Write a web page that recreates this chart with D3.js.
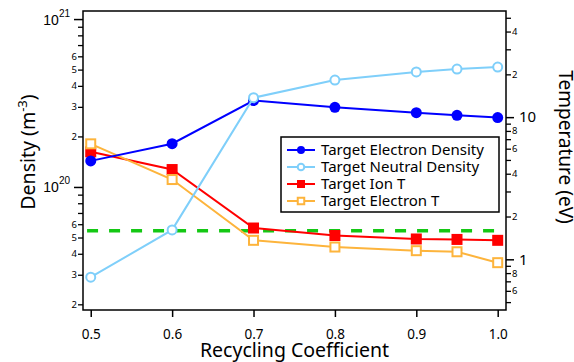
<!DOCTYPE html>
<html>
<head>
<meta charset="utf-8">
<script src="https://cdn.jsdelivr.net/npm/d3@7"></script>
<style>
  body { margin: 0; background: #fff; }
  svg { display: block; font-family: "Noto Sans", sans-serif; }
</style>
</head>
<body>
<svg id="chart"></svg>
<script>
// recycling coefficient on the x axis
const recycling = [0.5, 0.6, 0.7, 0.8, 0.9, 0.95, 1.0];

// densities (m^-3), left axis
const electronDensity = [1.43e20, 1.81e20, 3.27e20, 2.98e20, 2.77e20, 2.67e20, 2.59e20];
const neutralDensity = [2.90e19, 5.55e19, 3.40e20, 4.33e20, 4.84e20, 5.04e20, 5.18e20];

// temperatures (eV), right axis
const ionT = [5.70, 4.28, 1.66, 1.47, 1.39, 1.38, 1.36];
const electronT = [6.49, 3.64, 1.36, 1.22, 1.15, 1.13, 0.947];

// dashed reference level (eV, right axis)
const refLevel = 1.585;

// tick values / labels
const xTicks = [0.5, 0.6, 0.7, 0.8, 0.9, 1.0];
const leftMajor = [1e20, 1e21];
const leftMinor = [2e19, 3e19, 4e19, 5e19, 6e19, 7e19, 8e19, 9e19,
                   2e20, 3e20, 4e20, 5e20, 6e20, 7e20, 8e20, 9e20];
const leftMinorLabelled = [2, 3, 4, 5, 6];
const rightMajor = [1, 10];
const rightMinor = [0.5, 0.6, 0.7, 0.8, 0.9, 2, 3, 4, 5, 6, 7, 8, 9, 20, 30, 40, 50];
const rightMinorLabelled = [2, 4, 6, 8];

const config = {
  width: 574,
  height: 362,
  margin: { top: 11, right: 68, bottom: 52, left: 83 }
};

const svg = d3.select('#chart')
    .attr('width', config.width)
    .attr('height', config.height);

const x0 = config.margin.left;
const x1 = config.width - config.margin.right;
const y0 = config.height - config.margin.bottom;
const y1 = config.margin.top;

const xScale = d3.scaleLinear().domain([0.4905, 1.0102]).range([x0, x1]);
const yLeft = d3.scaleLog().domain([1.85e19, 1.117e21]).range([y0, y1]);
const yRight = d3.scaleLog().domain([0.44, 55.8]).range([y0, y1]);

// leading digit of a log tick value
const mant = v => Math.round(v / Math.pow(10, Math.floor(Math.log10(v) + 1e-9)));

// frame
svg.append('rect')
    .attr('x', x0).attr('y', y1)
    .attr('width', x1 - x0).attr('height', y0 - y1)
    .attr('fill', 'none')
    .attr('stroke', '#000')
    .attr('stroke-width', 1.5);

// x axis
const xAxis = svg.append('g')
    .attr('transform', `translate(0,${y0})`)
    .call(d3.axisBottom(xScale).tickValues(xTicks).tickFormat(d3.format('.1f'))
      .tickSize(7).tickPadding(12).tickSizeOuter(0));
xAxis.select('.domain').remove();
xAxis.selectAll('line').attr('stroke-width', 1.5);
xAxis.selectAll('text').attr('font-size', 13.5).attr('font-family', '"Noto Sans", sans-serif').attr('fill', '#000');

// left axis - minor ticks
const leftMinorG = svg.append('g')
    .attr('transform', `translate(${x0},0)`)
    .call(d3.axisLeft(yLeft).tickValues(leftMinor)
      .tickFormat(d => leftMinorLabelled.includes(mant(d)) ? mant(d) : '')
      .tickSize(5).tickPadding(1).tickSizeOuter(0));
leftMinorG.select('.domain').remove();
leftMinorG.selectAll('line').attr('stroke-width', 1.3);
leftMinorG.selectAll('text').attr('font-size', 9.5).attr('font-family', '"Noto Sans", sans-serif').attr('fill', '#000');

// left axis - decades
const leftMajorG = svg.append('g')
    .attr('transform', `translate(${x0},0)`)
    .call(d3.axisLeft(yLeft).tickValues(leftMajor).tickFormat('')
      .tickSize(9).tickSizeOuter(0));
leftMajorG.select('.domain').remove();
leftMajorG.selectAll('line').attr('stroke-width', 1.5);
leftMajorG.selectAll('.tick').append('text')
    .attr('x', -13)
    .attr('y', 5)
    .attr('text-anchor', 'end')
    .attr('fill', '#000')
    .attr('font-size', 14)
    .each(function(d) {
      const t = d3.select(this);
      t.append('tspan').text('10');
      t.append('tspan').attr('font-size', 10).attr('dy', -8).text(Math.round(Math.log10(d)));
    });

// right axis - minor ticks
const rightMinorG = svg.append('g')
    .attr('transform', `translate(${x1},0)`)
    .call(d3.axisRight(yRight).tickValues(rightMinor)
      .tickFormat(d => rightMinorLabelled.includes(mant(d)) ? mant(d) : '')
      .tickSize(5).tickPadding(1).tickSizeOuter(0));
rightMinorG.select('.domain').remove();
rightMinorG.selectAll('line').attr('stroke-width', 1.3);
rightMinorG.selectAll('text').attr('font-size', 9.5).attr('font-family', '"Noto Sans", sans-serif').attr('fill', '#000');

// right axis - decades
const rightMajorG = svg.append('g')
    .attr('transform', `translate(${x1},0)`)
    .call(d3.axisRight(yRight).tickValues(rightMajor).tickFormat(d3.format('d'))
      .tickSize(8).tickPadding(5).tickSizeOuter(0));
rightMajorG.select('.domain').remove();
rightMajorG.selectAll('line').attr('stroke-width', 1.5);
rightMajorG.selectAll('text').attr('font-size', 15).attr('font-family', '"Noto Sans", sans-serif').attr('fill', '#000');

// axis titles
svg.append('text')
    .attr('x', (x0 + x1) / 2)
    .attr('y', 357)
    .attr('text-anchor', 'middle')
    .attr('font-size', 19.5)
    .text('Recycling Coefficient');

const leftTitle = svg.append('text')
    .attr('transform', `translate(35,152) rotate(-90)`)
    .attr('text-anchor', 'middle')
    .attr('font-size', 19.5);
leftTitle.append('tspan').text('Density (m');
leftTitle.append('tspan').attr('font-size', 13).attr('dy', -8).text('-3');
leftTitle.append('tspan').attr('dy', 8).text(')');

svg.append('text')
    .attr('transform', `translate(559,147) rotate(90)`)
    .attr('text-anchor', 'middle')
    .attr('font-size', 19)
    .text('Temperature (eV)');

// dashed reference line
svg.append('line')
    .attr('x1', xScale(0.4955)).attr('x2', xScale(1.0))
    .attr('y1', yRight(refLevel)).attr('y2', yRight(refLevel))
    .attr('stroke', '#14c814')
    .attr('stroke-width', 3.5)
    .attr('stroke-dasharray', '11,11');

// series definitions
const series = [
  { label: 'Target Ion T', values: ionT, scale: yRight, color: '#ff0000', shape: 'square', filled: true },
  { label: 'Target Electron T', values: electronT, scale: yRight, color: '#fdb43c', shape: 'square', filled: false },
  { label: 'Target Electron Density', values: electronDensity, scale: yLeft, color: '#0000ff', shape: 'circle', filled: true },
  { label: 'Target Neutral Density', values: neutralDensity, scale: yLeft, color: '#7fcffa', shape: 'circle', filled: false }
];

function drawMarker(g, s, cx, cy, small) {
  if (s.shape === 'circle') {
    g.append('circle')
        .attr('cx', cx).attr('cy', cy)
        .attr('r', s.filled ? (small ? 4 : 5.5) : (small ? 3.3 : 4.5))
        .attr('fill', s.filled ? s.color : '#fff')
        .attr('stroke', s.color)
        .attr('stroke-width', s.filled ? 0 : 2);
  } else {
    const size = s.filled ? (small ? 8 : 11) : (small ? 6.5 : 9);
    g.append('rect')
        .attr('x', cx - size / 2).attr('y', cy - size / 2)
        .attr('width', size).attr('height', size)
        .attr('fill', s.filled ? s.color : '#fff')
        .attr('stroke', s.color)
        .attr('stroke-width', s.filled ? 0 : 2);
  }
}

const line = (scale) => d3.line()
    .x((d, i) => xScale(recycling[i]))
    .y(d => scale(d));

for (let s of series) {
  const g = svg.append('g');
  g.append('path')
      .datum(s.values)
      .attr('d', line(s.scale))
      .attr('fill', 'none')
      .attr('stroke', s.color)
      .attr('stroke-width', 2);
  s.values.forEach((v, i) => drawMarker(g, s, xScale(recycling[i]), s.scale(v), false));
}

// legend
const legendOrder = [2, 3, 0, 1];
const legend = svg.append('g').attr('transform', 'translate(281,137)');
legend.append('rect')
    .attr('width', 218).attr('height', 75)
    .attr('fill', '#fff')
    .attr('stroke', '#000')
    .attr('stroke-width', 1.5);

legendOrder.forEach((k, i) => {
  const s = series[k];
  const ly = 13 + i * 17;
  const row = legend.append('g');
  row.append('line')
      .attr('x1', 6).attr('x2', 34)
      .attr('y1', ly).attr('y2', ly)
      .attr('stroke', s.color)
      .attr('stroke-width', 2);
  drawMarker(row, s, 20, ly, true);
  row.append('text')
      .attr('x', 40).attr('y', ly)
      .attr('dy', '0.35em')
      .attr('font-size', 15)
      .text(s.label);
});
</script>
</body>
</html>
